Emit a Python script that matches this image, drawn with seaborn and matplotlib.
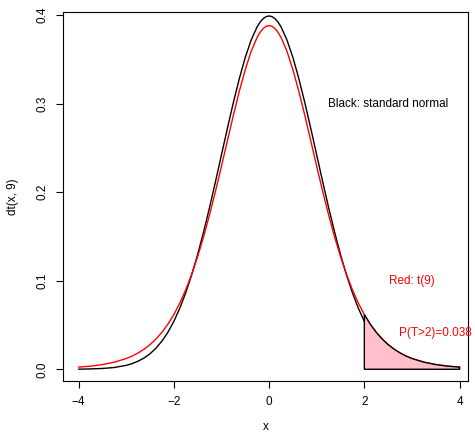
import matplotlib
matplotlib.use("Agg")
import matplotlib.pyplot as plt
import seaborn as sns
import pandas as pd

# x grid and density values
x_vals = [-4.0, -3.75, -3.5, -3.25, -3.0, -2.875, -2.75, -2.625, -2.5, -2.375, -2.25, -2.125,
          -2.0, -1.875, -1.75, -1.625, -1.5, -1.375, -1.25, -1.125, -1.0, -0.875, -0.75,
          -0.625, -0.5, -0.375, -0.25, -0.1875, -0.125, -0.0625, 0.0, 0.0625, 0.125, 0.1875,
          0.25, 0.375, 0.5, 0.625, 0.75, 0.875, 1.0, 1.125, 1.25, 1.375, 1.5, 1.625, 1.75,
          1.875, 2.0, 2.125, 2.25, 2.375, 2.5, 2.625, 2.75, 2.875, 3.0, 3.25, 3.5, 3.75, 4.0]
normal_vals = [0.0001, 0.0004, 0.0009, 0.0020, 0.0044, 0.0064, 0.0091, 0.0127, 0.0175, 0.0238,
               0.0317, 0.0417, 0.0540, 0.0688, 0.0863, 0.1065, 0.1295, 0.1550, 0.1826, 0.2119,
               0.2420, 0.2720, 0.3011, 0.3281, 0.3521, 0.3718, 0.3867, 0.3920, 0.3958, 0.3981,
               0.3989, 0.3981, 0.3958, 0.3920, 0.3867, 0.3718, 0.3521, 0.3281, 0.3011, 0.2720,
               0.2420, 0.2119, 0.1826, 0.1550, 0.1295, 0.1065, 0.0863, 0.0688, 0.0540, 0.0417,
               0.0317, 0.0238, 0.0175, 0.0127, 0.0091, 0.0064, 0.0044, 0.0020, 0.0009, 0.0004,
               0.0001]
t9_vals = [0.0024, 0.0035, 0.0053, 0.0080, 0.0121, 0.0149, 0.0184, 0.0226, 0.0278, 0.0341,
           0.0417, 0.0508, 0.0617, 0.0746, 0.0897, 0.1072, 0.1272, 0.1495, 0.1743, 0.2010,
           0.2291, 0.2580, 0.2866, 0.3138, 0.3383, 0.3591, 0.3748, 0.3805, 0.3846, 0.3872,
           0.3880, 0.3872, 0.3846, 0.3805, 0.3748, 0.3591, 0.3383, 0.3138, 0.2866, 0.2580,
           0.2291, 0.2010, 0.1743, 0.1495, 0.1272, 0.1072, 0.0897, 0.0746, 0.0617, 0.0508,
           0.0417, 0.0341, 0.0278, 0.0226, 0.0184, 0.0149, 0.0121, 0.0080, 0.0053, 0.0035,
           0.0024]
x_ticks = [-4, -2, 0, 2, 4]
x_tick_labels = ["\u22124", "\u22122", "0", "2", "4"]
y_ticks = [0.0, 0.1, 0.2, 0.3, 0.4]
y_tick_labels = ["0.0", "0.1", "0.2", "0.3", "0.4"]
tail_start = 2.0

df = pd.DataFrame({"x": x_vals, "normal": normal_vals, "t9": t9_vals})

sns.set_style("white")
plt.rcParams["font.family"] = ["Liberation Sans", "DejaVu Sans"]
plt.rcParams["font.size"] = 8.5
plt.rcParams["text.color"] = "black"
plt.rcParams["axes.labelcolor"] = "black"
plt.rcParams["xtick.color"] = "black"
plt.rcParams["ytick.color"] = "black"

fig = plt.figure(figsize=(4.75, 4.36), dpi=100)
ax = fig.add_axes([63.3 / 475, 55.3 / 436, 404.4 / 475, 368.4 / 436])

sns.lineplot(data=df, x="x", y="normal", color="black", linewidth=1.0, ax=ax)
sns.lineplot(data=df, x="x", y="t9", color="red", linewidth=1.0, ax=ax)

tail = df[df["x"] >= tail_start]
px = [tail_start] + list(tail["x"]) + [tail["x"].iloc[-1], tail_start]
py = [0.0] + list(tail["t9"]) + [0.0, 0.0]
ax.fill(px, py, facecolor="#FFC0CB", edgecolor="black", linewidth=1.0, zorder=3)

ax.text(2.5, 0.30, "Black: standard normal", ha="center", va="center", color="black", fontsize=8.5)
ax.text(3.0, 0.10, "Red: t(9)", ha="center", va="center", color="red", fontsize=8.5)
ax.text(3.5, 0.0413, "P(T>2)=0.038", ha="center", va="center", color="red", fontsize=8.5)

ax.set_xlim(-4.32, 4.17)
ax.set_ylim(-0.0129, 0.403)
ax.set_xticks(x_ticks)
ax.set_xticklabels(x_tick_labels)
ax.set_yticks(y_ticks)
ax.set_yticklabels(y_tick_labels, rotation=90, va="center")
ax.tick_params(axis="both", direction="out", length=5, width=0.8, color="black",
               labelcolor="black", labelsize=8.5, bottom=True, left=True)
ax.tick_params(axis="x", pad=6.0)
ax.tick_params(axis="y", pad=5.5)
for s in ax.spines.values():
    s.set_visible(True)
    s.set_color("black")
    s.set_linewidth(0.8)

ax.set_xlabel("x", fontsize=8.5, color="black")
ax.set_ylabel("dt(x, 9)", fontsize=8.5, color="black")
ax.xaxis.set_label_coords(0.5, -0.143)
ax.xaxis.label.set_va("bottom")
ax.yaxis.set_label_coords(-0.124, 0.5)
ax.yaxis.label.set_va("center")

fig.savefig("out.png", dpi=100)
